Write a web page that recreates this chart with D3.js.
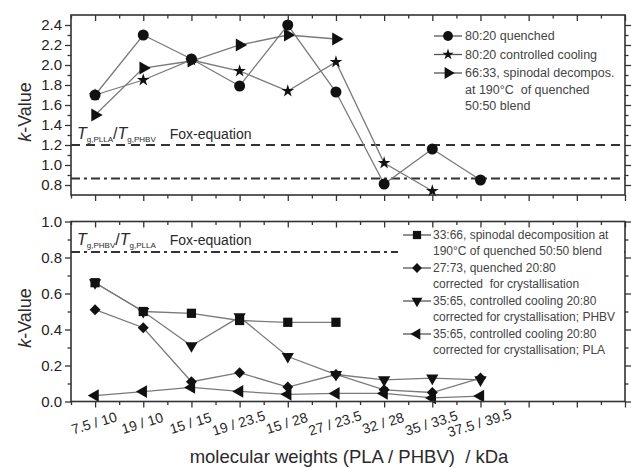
<!DOCTYPE html>
<html>
<head>
<meta charset="utf-8">
<script src="https://cdn.jsdelivr.net/npm/d3@7"></script>
<style>
  body { margin: 0; background: #fff; }
  text { font-family: "Liberation Sans", Arial, sans-serif; fill: #2a2a2a; white-space: pre; }
</style>
</head>
<body>
<div id="chart"></div>
<script>
// categories (PLA / PHBV molecular weights)
const categories = ["7.5 / 10", "19 / 10", "15 / 15", "19 / 23.5", "15 / 28", "27 / 23.5", "32 / 28", "35 / 33.5", "37.5 / 39.5"];

// top panel series
const quenched8020 = [1.70, 2.30, 2.06, 1.79, 2.40, 1.73, 0.81, 1.16, 0.85];
const cooled8020 = [1.70, 1.85, 2.05, 1.94, 1.74, 2.03, 1.02, 0.74];
const spinodal6633 = [1.50, 1.97, 2.04, 2.20, 2.30, 2.26];

// bottom panel series
const spinodal3366 = [0.66, 0.50, 0.49, 0.45, 0.44, 0.44];
const quenched2773 = [0.51, 0.41, 0.11, 0.16, 0.08, 0.15, 0.065, 0.05, 0.13];
const cooledPHBV = [0.66, 0.50, 0.31, 0.47, 0.25, 0.15, 0.12, 0.13, 0.12];
const cooledPLA = [0.033, 0.055, 0.078, 0.056, 0.04, 0.045, 0.045, 0.02, 0.03];

// Fox-equation reference lines
const foxTop = [1.2, 0.865];
const foxBottom = [0.83];

const topTicks = [0.8, 1.0, 1.2, 1.4, 1.6, 1.8, 2.0, 2.2, 2.4];
const bottomTicks = [0.0, 0.2, 0.4, 0.6, 0.8, 1.0];

const W = 631, H = 468;
const svg = d3.select("#chart").append("svg").attr("width", W).attr("height", H);

const x = d3.scaleLinear().domain([-0.5, 11]).range([71, 625]);
const yTop = d3.scaleLinear().domain([0.7, 2.5]).range([195, 15]);
const yBot = d3.scaleLinear().domain([0, 1.0]).range([401.5, 221.5]);

const majorX = d3.range(0, 12);
const minorX = d3.range(-0.5, 11, 1);

function frame(y, yMajor, yMinor) {
  const [y0, y1] = y.range();
  const g = svg.append("g");
  // left
  g.append("g").attr("transform", `translate(${x(-0.5)},0)`)
    .call(d3.axisLeft(y).tickValues(yMajor).tickSize(6).tickSizeOuter(0).tickPadding(3).tickFormat(d3.format(".1f")))
    .call(a => a.selectAll("text").style("font-size", "15px").style("fill", "#222"));
  g.append("g").attr("transform", `translate(${x(-0.5)},0)`)
    .call(d3.axisLeft(y).tickValues(yMinor).tickSize(3.5).tickSizeOuter(0).tickFormat(""));
  // right
  g.append("g").attr("transform", `translate(${x(11)},0)`)
    .call(d3.axisRight(y).tickValues(yMajor).tickSize(6).tickSizeOuter(0).tickFormat(""));
  g.append("g").attr("transform", `translate(${x(11)},0)`)
    .call(d3.axisRight(y).tickValues(yMinor).tickSize(3.5).tickSizeOuter(0).tickFormat(""));
  // top (inward)
  g.append("g").attr("transform", `translate(0,${y1})`)
    .call(d3.axisTop(x).tickValues(majorX).tickSize(-6).tickSizeOuter(0).tickFormat(""));
  g.append("g").attr("transform", `translate(0,${y1})`)
    .call(d3.axisTop(x).tickValues(minorX).tickSize(-3.5).tickSizeOuter(0).tickFormat(""));
  // bottom (outward)
  g.append("g").attr("transform", `translate(0,${y0})`)
    .call(d3.axisBottom(x).tickValues(majorX).tickSize(6).tickSizeOuter(0).tickFormat(""));
  g.append("g").attr("transform", `translate(0,${y0})`)
    .call(d3.axisBottom(x).tickValues(minorX).tickSize(3.5).tickSizeOuter(0).tickFormat(""));
  g.selectAll(".domain").remove();
  g.selectAll("line").attr("stroke", "#333").attr("stroke-width", 1.3);
  g.append("rect").attr("x", x(-0.5)).attr("y", y1).attr("width", x(11) - x(-0.5)).attr("height", y0 - y1)
    .attr("fill", "none").attr("stroke", "#333").attr("stroke-width", 1.6);
  return g;
}

const minor = (ticks) => ticks.slice(0, -1).map(t => +(t + 0.1).toFixed(2));

// reference lines first
const refG = svg.append("g");
refG.append("line").attr("x1", x(-0.5)).attr("x2", x(11)).attr("y1", yTop(foxTop[0])).attr("y2", yTop(foxTop[0]))
  .attr("stroke", "#333").attr("stroke-width", 2).attr("stroke-dasharray", "9,6");
refG.append("line").attr("x1", x(-0.5)).attr("x2", x(11)).attr("y1", yTop(foxTop[1])).attr("y2", yTop(foxTop[1]))
  .attr("stroke", "#333").attr("stroke-width", 2).attr("stroke-dasharray", "9,4,3,4");
refG.append("line").attr("x1", x(-0.5)).attr("x2", x(11)).attr("y1", yBot(foxBottom[0])).attr("y2", yBot(foxBottom[0]))
  .attr("stroke", "#333").attr("stroke-width", 2).attr("stroke-dasharray", "9,4,3,4");

const sym = {
  circle: { type: d3.symbolCircle, size: 95, rot: 0 },
  star: { type: d3.symbolStar, size: 50, rot: 0 },
  right: { type: d3.symbolTriangle, size: 75, rot: 90 },
  square: { type: d3.symbolSquare, size: 85, rot: 0 },
  diamond: { type: d3.symbolSquare, size: 60, rot: 45 },
  down: { type: d3.symbolTriangle, size: 65, rot: 180 },
  left: { type: d3.symbolTriangle, size: 70, rot: -90 }
};

function drawSeries(values, y, shape) {
  const pts = values.map((v, i) => [x(i), y(v)]);
  svg.append("path").attr("d", d3.line()(pts)).attr("fill", "none").attr("stroke", "#7a7a7a").attr("stroke-width", 1.3);
  const s = sym[shape];
  svg.append("g").selectAll("path").data(pts).join("path")
    .attr("d", d3.symbol(s.type, s.size))
    .attr("transform", d => `translate(${d[0]},${d[1]}) rotate(${s.rot})`)
    .attr("fill", "#111");
}

drawSeries(spinodal6633, yTop, "right");
drawSeries(cooled8020, yTop, "star");
drawSeries(quenched8020, yTop, "circle");

drawSeries(cooledPLA, yBot, "left");
drawSeries(cooledPHBV, yBot, "down");
drawSeries(quenched2773, yBot, "diamond");
drawSeries(spinodal3366, yBot, "square");

// Fox labels
function foxLabel(xp, yp, a, b) {
  const t = svg.append("text").attr("x", xp).attr("y", yp).style("font-size", "16px");
  t.append("tspan").text("T").style("font-style", "italic");
  t.append("tspan").text(a).attr("dy", 3).style("font-size", "8px");
  t.append("tspan").text("/").attr("dy", -3);
  t.append("tspan").text("T").style("font-style", "italic");
  t.append("tspan").text(b).attr("dy", 3).style("font-size", "8px");
  t.append("tspan").text("Fox-equation").attr("dy", -3).attr("dx", 14).style("font-size", "14px");
}
foxLabel(77, 139, "g,PLLA", "g,PHBV");
foxLabel(77, 245, "g,PHBV", "g,PLLA");

// legends
const topLegend = [
  { shape: "circle", lines: ["80:20 quenched"] },
  { shape: "star", lines: ["80:20 controlled cooling"] },
  { shape: "right", lines: ["66:33, spinodal decompos.", "at 190°C  of quenched", "50:50 blend"] }
];
const bottomLegend = [
  { shape: "square", lines: ["33:66, spinodal decomposition at", "190°C of quenched 50:50 blend"] },
  { shape: "diamond", lines: ["27:73, quenched 20:80", "corrected  for crystallisation"] },
  { shape: "down", lines: ["35:65, controlled cooling 20:80", "corrected for crystallisation; PHBV"] },
  { shape: "left", lines: ["35:65, controlled cooling 20:80", "corrected for crystallisation; PLA"] }
];

svg.append("rect").attr("x", 398).attr("y", 223).attr("width", 224).attr("height", 136).attr("fill", "#fff");

function legend(items, x0, lx, y0, rowGap, lineGap, fs) {
  let yy = y0;
  items.forEach(it => {
    const s = sym[it.shape];
    svg.append("line").attr("x1", x0).attr("x2", x0 + 28).attr("y1", yy).attr("y2", yy)
      .attr("stroke", "#555").attr("stroke-width", 1.3);
    svg.append("path").attr("d", d3.symbol(s.type, s.size * 0.8))
      .attr("transform", `translate(${x0 + 14},${yy}) rotate(${s.rot})`).attr("fill", "#111");
    it.lines.forEach((ln, j) => {
      svg.append("text").attr("x", lx).attr("y", yy + j * lineGap).attr("dy", "0.35em")
        .style("font-size", fs).style("fill", "#444").text(ln);
    });
    yy += rowGap + (it.lines.length - 1) * lineGap;
  });
}
legend(topLegend, 434, 465, 36, 18.5, 16.5, "12.5px");
legend(bottomLegend, 403, 433, 235, 17, 16, "12px");

frame(yTop, topTicks, minor(topTicks));
frame(yBot, bottomTicks, minor(bottomTicks));

// x tick labels (rotated)
svg.append("g").selectAll("text").data(categories).join("text")
  .attr("transform", (d, i) => `translate(${x(i) - 1},423) rotate(-17)`)
  .attr("text-anchor", "middle").attr("dy", "0.35em").style("font-size", "14px").text(d => d);

// axis titles
svg.append("text").attr("x", 349).attr("y", 463).attr("text-anchor", "middle").style("font-size", "18.5px")
  .text("molecular weights (PLA / PHBV)  / kDa");

function yTitle(cy) {
  const t = svg.append("text").attr("transform", `translate(31,${cy}) rotate(-90)`).attr("text-anchor", "middle").style("font-size", "18px");
  t.append("tspan").text("k").style("font-style", "italic");
  t.append("tspan").text("-Value");
}
yTitle(112);
yTitle(318);
</script>
</body>
</html>
